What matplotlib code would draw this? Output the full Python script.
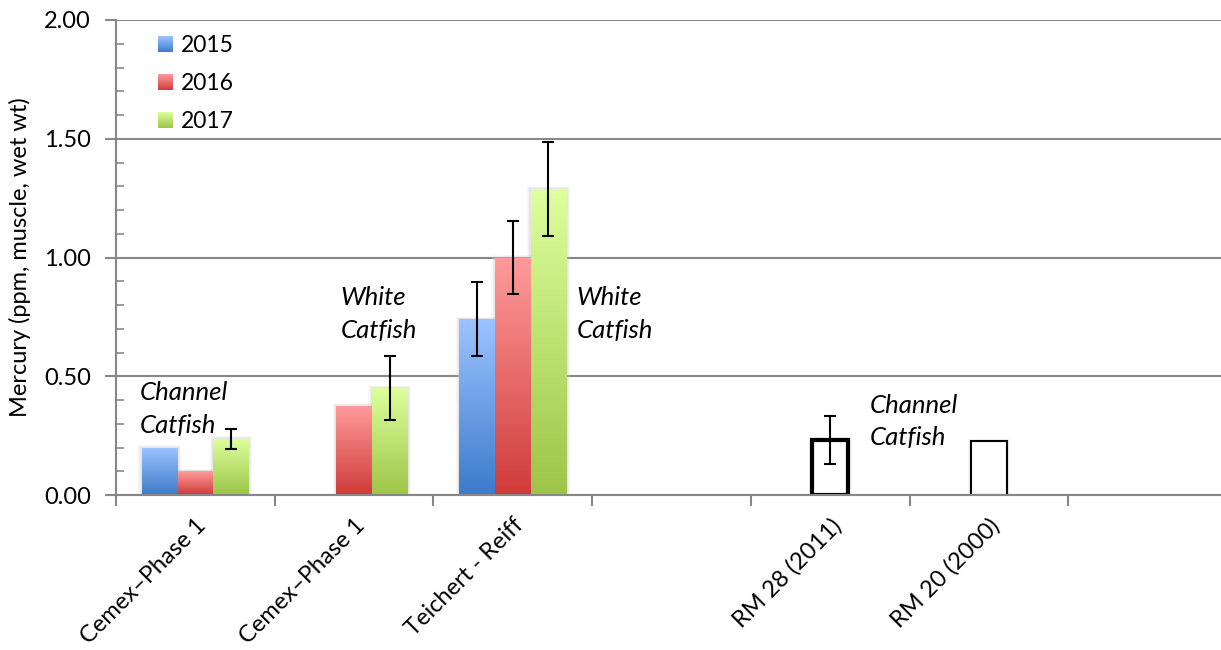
import numpy as np
import matplotlib
matplotlib.use("Agg")
import matplotlib.pyplot as plt
from matplotlib.patches import Rectangle
from matplotlib.colors import to_rgb
from matplotlib.legend_handler import HandlerBase
from matplotlib.ticker import MultipleLocator, FixedLocator, NullFormatter

nan = np.nan

# ---- data -------------------------------------------------------------
sites = ["Cemex\u2013Phase 1", "Cemex\u2013Phase 1", "Teichert - Reiff", "",
         "RM 28 (2011)", "RM 20 (2000)", ""]
years = ["2015", "2016", "2017"]

hg_2015 = [0.20, nan, 0.74, nan, nan, nan, nan]
hg_2016 = [0.10, 0.375, 1.00, nan, nan, nan, nan]
hg_2017 = [0.236, 0.45, 1.288, nan, nan, nan, nan]
err_2015 = [nan, nan, 0.156, nan, nan, nan, nan]
err_2016 = [nan, nan, 0.153, nan, nan, nan, nan]
err_2017 = [0.043, 0.135, 0.197, nan, nan, nan, nan]

# earlier surveys (single bars)
hist_hg = [nan, nan, nan, nan, 0.232, 0.226, nan]
hist_err = [nan, nan, nan, nan, 0.10, nan, nan]

species_labels = ["Channel\nCatfish", "White\nCatfish", "White\nCatfish", "Channel\nCatfish"]
species_x = [0.15, 1.415, 2.90, 4.75]
species_y = [0.478, 0.878, 0.878, 0.427]

# ---- style ------------------------------------------------------------
FONT = "Lato"
plt.rcParams["font.family"] = [FONT, "DejaVu Sans"]
GRAY = "#878787"
gradients = {
    "2015": ("#9DC3FF", "#3B7BCB"),
    "2016": ("#FF9B9B", "#CF3B3A"),
    "2017": ("#DDFF9D", "#9CC548"),
}
hist_linewidths = {4: 3.0, 5: 1.5}
bar_w = 0.225
FS = 17

W, H = 1221, 650
fig = plt.figure(figsize=(W / 100, H / 100), dpi=100)
ax = fig.add_axes([116 / W, 1 - 495 / H, (1227 - 116) / W, 475 / H])

x = np.arange(len(sites)) + 0.5


def add_shadow(xc, h, w):
    # soft grey halo behind each bar
    for k, a in zip((3.5, 2.3, 1.2), (0.14, 0.18, 0.22)):
        ax.bar(xc, h + k * 0.003, width=w + k * 2 * 0.0063, color="#c8c8c8",
               alpha=a, linewidth=0, zorder=1.5)


def gradient_fill(patch, top, bottom):
    x0, y0 = patch.get_x(), patch.get_y()
    w, h = patch.get_width(), patch.get_height()
    t = np.linspace(0, 1, 256)[:, None, None]
    c0, c1 = np.array(to_rgb(bottom)), np.array(to_rgb(top))
    img = c0 + (c1 - c0) * t
    im = ax.imshow(img, extent=[x0, x0 + w, y0, y0 + h], origin="lower",
                   aspect="auto", interpolation="bilinear", zorder=2)
    im.set_clip_path(patch)


series = [(hg_2015, err_2015), (hg_2016, err_2016), (hg_2017, err_2017)]
for i, (yr, (vals, errs)) in enumerate(zip(years, series)):
    vals = np.array(vals, float)
    errs = np.array(errs, float)
    pos = x + (i - 1) * bar_w
    ok = ~np.isnan(vals)
    add_shadow(pos[ok], vals[ok], bar_w)
    bars = ax.bar(pos[ok], vals[ok], width=bar_w, facecolor="none",
                  edgecolor="none", zorder=2)
    top, bottom = gradients[yr]
    for p in bars:
        gradient_fill(p, top, bottom)
    ek = ~np.isnan(errs)
    ax.errorbar(pos[ek], vals[ek], yerr=errs[ek], fmt="none", ecolor="black",
                elinewidth=1.5, capsize=4.5, capthick=1.5, zorder=4)

hist = np.array(hist_hg, float)
herr = np.array(hist_err, float)
hk = ~np.isnan(hist)
add_shadow(x[hk], hist[hk], bar_w)
for xi, v in zip(np.where(hk)[0], hist[hk]):
    ax.bar(x[xi], v, width=bar_w, facecolor="white", edgecolor="black",
           linewidth=hist_linewidths[xi], zorder=2.5)
ek = ~np.isnan(herr)
ax.errorbar(x[ek], hist[ek], yerr=herr[ek], fmt="none", ecolor="black",
            elinewidth=1.5, capsize=4.5, capthick=1.5, zorder=4)

for lab, tx, ty in zip(species_labels, species_x, species_y):
    ax.text(tx, ty, lab, fontsize=18.5, style="italic", ha="left", va="top",
            linespacing=1.5, zorder=5, color="black")

# ---- axes -------------------------------------------------------------
ax.set_xlim(0, len(sites))
ax.set_ylim(0, 2.0)
ax.set_axisbelow(True)
ax.yaxis.set_major_locator(MultipleLocator(0.5))
ax.yaxis.set_minor_locator(MultipleLocator(0.1))
ax.yaxis.set_major_formatter(matplotlib.ticker.FormatStrFormatter("%.2f"))
ax.grid(axis="y", which="major", color=GRAY, linewidth=1.5)
ax.tick_params(axis="y", which="major", direction="out", length=8, width=1.5,
               color=GRAY, labelsize=FS, pad=10)
ax.tick_params(axis="y", which="minor", direction="in", length=6, width=1.2,
               color=GRAY)

ax.xaxis.set_major_locator(FixedLocator(np.arange(len(sites) + 1)))
ax.xaxis.set_major_formatter(NullFormatter())
ax.xaxis.set_minor_locator(FixedLocator(x))
ax.set_xticklabels(sites, minor=True, rotation=45, ha="right",
                   rotation_mode="anchor", fontsize=FS)
ax.tick_params(axis="x", which="major", direction="out", length=8, width=1.5,
               color=GRAY)
ax.tick_params(axis="x", which="minor", length=0, pad=14)

for s in ("top", "right"):
    ax.spines[s].set_visible(False)
for s in ("left", "bottom"):
    ax.spines[s].set_color(GRAY)
    ax.spines[s].set_linewidth(1.5)

ax.set_ylabel("Mercury (ppm, muscle, wet wt)", fontsize=17)
ax.yaxis.set_label_coords(-0.0765, 0.5)


class GradientSquare(HandlerBase):
    def __init__(self, top, bottom, n=16):
        super().__init__()
        self.top = np.array(to_rgb(top))
        self.bottom = np.array(to_rgb(bottom))
        self.n = n

    def create_artists(self, legend, orig_handle, xdescent, ydescent, width,
                       height, fontsize, trans):
        side = 11.0
        y0 = -ydescent + (height - side) / 2
        x0 = -xdescent + width - side
        arts = []
        for k in range(self.n):
            f = (k + 0.5) / self.n
            c = self.bottom + (self.top - self.bottom) * f
            arts.append(Rectangle((x0, y0 + k * side / self.n), side,
                                  side / self.n * 1.05, facecolor=c,
                                  edgecolor="none", transform=trans))
        return arts


handles = [Rectangle((0, 0), 1, 1) for _ in years]
hmap = {h: GradientSquare(*gradients[y]) for h, y in zip(handles, years)}
ax.legend(handles, years, handler_map=hmap, loc="upper left",
          bbox_to_anchor=(0.036, 0.968), frameon=False, fontsize=16.5,
          handlelength=0.75, handletextpad=0.35, labelspacing=0.74,
          borderaxespad=0, borderpad=0)

fig.savefig("out.png", dpi=100)
